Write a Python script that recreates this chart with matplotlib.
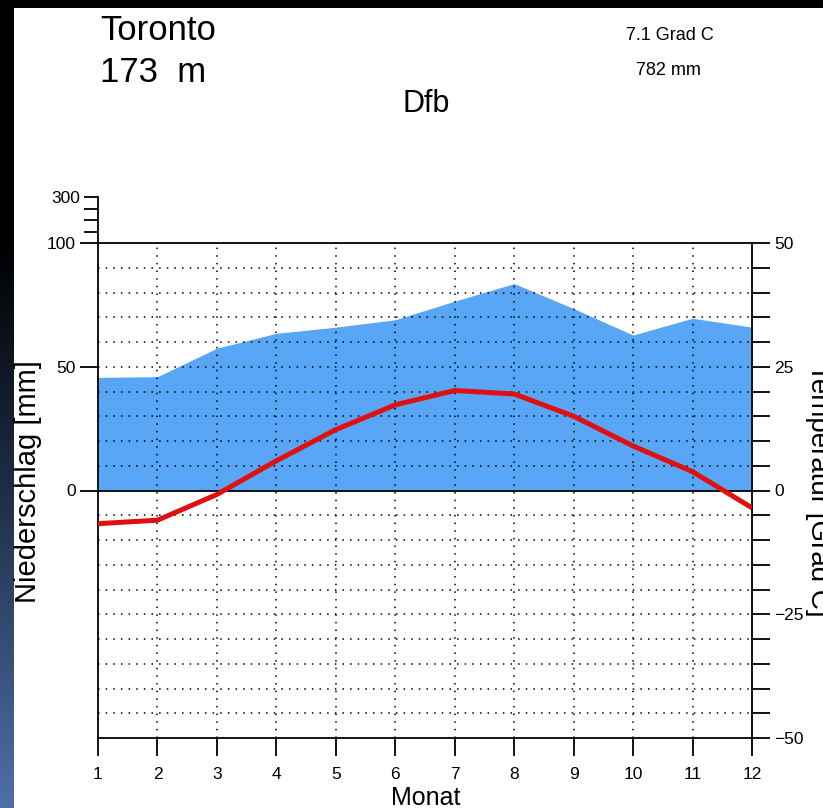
import numpy as np
import matplotlib.pyplot as plt
import matplotlib.colors as colors

plt.rcParams['font.family'] = ['Liberation Sans', 'DejaVu Sans']

# ---------------------------------------------------------------
# data (Toronto climate diagram)
# ---------------------------------------------------------------
monat = [1, 2, 3, 4, 5, 6, 7, 8, 9, 10, 11, 12]
niederschlag = [45.7, 46.0, 57.5, 63.5, 66.0, 69.0, 76.5, 83.6, 73.5, 62.8, 69.6, 66.0]
temperatur = [-6.7, -6.0, -0.8, 6.0, 12.3, 17.3, 20.2, 19.5, 15.0, 9.0, 3.8, -3.5]

W, H = 823, 808
fig = plt.figure(figsize=(W / 100, H / 100), dpi=100, facecolor='white')

# dark frame: top bar and left gradient strip
grad = np.linspace(0, 1, 256)
cm = colors.LinearSegmentedColormap.from_list(
    'strip', [(0.0, '#000000'), (0.3, '#000000'), (0.6, '#1e2c44'), (1.0, '#4e70a8')])
ax_s = fig.add_axes([0, 0, 14 / W, 1])
ax_s.imshow(grad[:, None], aspect='auto', cmap=cm, extent=[0, 1, 1, 0])
ax_s.axis('off')
ax_t = fig.add_axes([0, 1 - 8 / H, 1, 8 / H])
ax_t.set_facecolor('black')
ax_t.set_xticks([])
ax_t.set_yticks([])
for s in ax_t.spines.values():
    s.set_visible(False)

# main axes (precipitation in mm, temperature on twin)
x0, x1 = 98 / W, 752 / W
y0, y1 = 1 - 738 / H, 1 - 243 / H
ax = fig.add_axes([x0, y0, x1 - x0, y1 - y0])
ax.set_xlim(1, 12)
ax.set_ylim(-100, 100)

ax.fill_between(monat, 0, niederschlag, color='#58a6f5', lw=0, zorder=1)

grid = dict(color='black', lw=1.1, ls=(0, (1, 4)), zorder=2)
for m in monat[1:-1]:
    ax.axvline(m, **grid)
for t in range(-90, 100, 10):
    if t != 0:
        ax.axhline(t, **grid)
ax.axhline(0, color='black', lw=1.3, zorder=3)

ax.set_yticks([0, 50, 100])
ax.set_yticklabels(['0', '50', '100'])
ax.set_xticks(monat)
ax.tick_params(axis='both', direction='out', length=13, width=1.3,
               labelsize=12.5, colors='black')
ax.tick_params(axis='x', pad=8)
ax.tick_params(axis='y', pad=3)
for s in ax.spines.values():
    s.set_linewidth(1.3)

ax2 = ax.twinx()
ax2.set_ylim(-50, 50)
ax2.plot(monat, temperatur, color='#e01010', lw=3.6, solid_capstyle='butt', zorder=5)
ax2.set_yticks([-50, -25, 0, 25, 50])
ax2.set_yticks(np.arange(-45, 50, 5), minor=True)
ax2.tick_params(axis='y', which='both', direction='out', length=13, width=1.3,
                labelsize=12.5, pad=3)
ax2.tick_params(axis='y', which='minor', labelright=False)
for s in ax2.spines.values():
    s.set_visible(False)

# extension above 100 mm
ey0 = 1 - 243 / H
ey1 = 1 - 197 / H
ax_e = fig.add_axes([x0, ey0, 0.0001, ey1 - ey0])
ax_e.set_ylim(100, 300)
ax_e.set_xticks([])
ax_e.set_yticks([300])
ax_e.set_yticks([150, 200, 250], minor=True)
ax_e.tick_params(axis='y', which='both', direction='out', length=10, width=1.3,
                 labelsize=12.5, pad=3)
for k in ['top', 'bottom', 'right']:
    ax_e.spines[k].set_visible(False)
ax_e.spines['left'].set_linewidth(1.3)
ax_e.patch.set_visible(False)

# texts
fig.text(100 / W, 1 - 40 / H, 'Toronto', fontsize=25, ha='left', va='baseline')
fig.text(100 / W, 1 - 82 / H, '173  m', fontsize=25, ha='left', va='baseline')
fig.text(670 / W, 1 - 40 / H, '7.1 Grad C', fontsize=13, ha='center', va='baseline')
fig.text(668 / W, 1 - 75 / H, '782 mm', fontsize=13, ha='center', va='baseline')
fig.text(426 / W, 1 - 112 / H, 'Dfb', fontsize=22, ha='center', va='baseline')
fig.text(28 / W, 1 - 482 / H, 'Niederschlag [mm]', fontsize=21, rotation=90,
         ha='center', va='center')
fig.text(818 / W, 1 - 490 / H, 'Temperatur [Grad C]', fontsize=20, rotation=270,
         ha='center', va='center')
fig.text(426 / W, 1 - 805 / H, 'Monat', fontsize=18, ha='center', va='baseline')

fig.savefig('out.png', dpi=100, facecolor='white')
